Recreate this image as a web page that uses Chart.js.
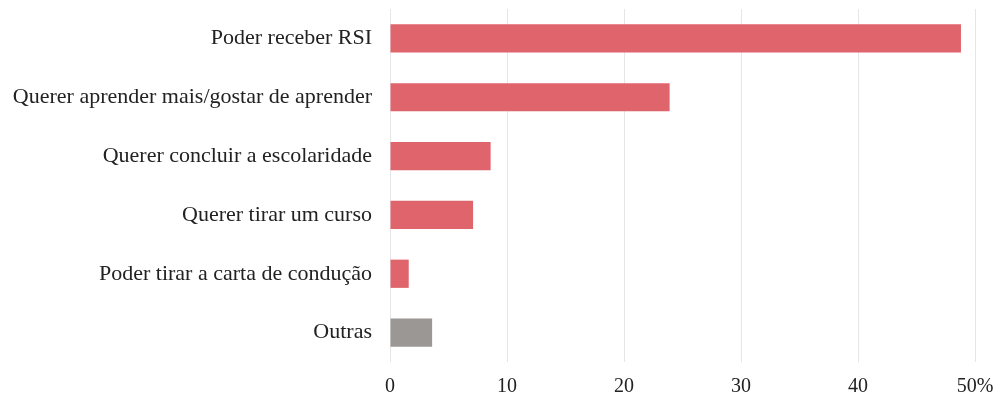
<!DOCTYPE html>
<html>
<head>
<meta charset="utf-8">
<script src="https://cdn.jsdelivr.net/npm/chart.js@4/dist/chart.umd.min.js"></script>
<style>
  html, body { margin: 0; padding: 0; background: #fff; }
  #wrap { width: 1003px; height: 402px; }
</style>
</head>
<body>
<div id="wrap"><canvas id="chart"></canvas></div>
<script>
// reasons (categories), percent of answers
const categories = [
  "Poder receber RSI",
  "Querer aprender mais/gostar de aprender",
  "Querer concluir a escolaridade",
  "Querer tirar um curso",
  "Poder tirar a carta de condução",
  "Outras"
];
const values = [48.8, 23.9, 8.6, 7.1, 1.6, 3.6];
const xTicks = [0, 10, 20, 30, 40, 50];

const RED = "#e0646b";
const GREY = "#9b9794";

const canvas = document.getElementById("chart");
const ctx = canvas.getContext("2d");

new Chart(ctx, {
  type: "bar",
  data: {
    labels: categories,
    datasets: [{
      data: values,
      backgroundColor: categories.map(c => c === "Outras" ? GREY : RED),
      borderWidth: 0,
      categoryPercentage: 1,
      barPercentage: 0.48
    }]
  },
  options: {
    indexAxis: "y",
    responsive: true,
    maintainAspectRatio: false,
    animation: false,
    layout: { padding: { top: 9, right: 28, bottom: 0, left: 0 } },
    plugins: {
      legend: { display: false },
      tooltip: { enabled: false }
    },
    scales: {
      x: {
        min: 0,
        max: 50,
        afterBuildTicks: axis => { axis.ticks = xTicks.map(v => ({ value: v })); },
        afterFit: axis => { axis.height = 40; axis.paddingLeft = 0; axis.paddingRight = 0; },
        border: { display: false },
        grid: { color: "#e6e6e6", lineWidth: 1, drawTicks: false },
        ticks: {
          color: "#222",
          padding: 13,
          maxRotation: 0,
          font: { family: "'Liberation Serif', serif", size: 20 },
          callback: v => v === 50 ? "50%" : v
        }
      },
      y: {
        afterFit: axis => { axis.width = 390; axis.paddingTop = 0; axis.paddingBottom = 0; },
        border: { display: false },
        grid: { display: false, drawTicks: false },
        ticks: {
          color: "#222",
          padding: 18,
          font: { family: "'Liberation Serif', serif", size: 22 }
        }
      }
    }
  }
});
</script>
</body>
</html>
